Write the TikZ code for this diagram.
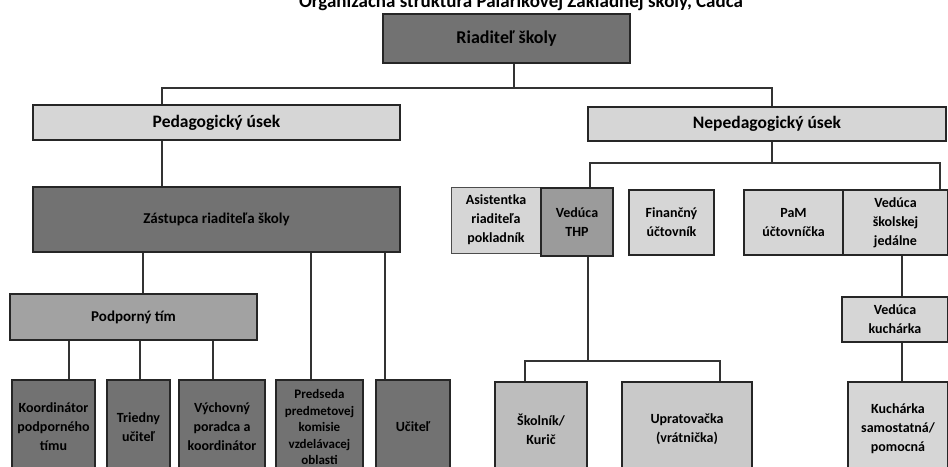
\documentclass[tikz,border=0pt]{standalone}
\usepackage{fontspec}
\setmainfont{Carlito}
\usetikzlibrary{positioning}

\definecolor{dark}{HTML}{727272}
\definecolor{mid}{HTML}{A2A2A2}
\definecolor{midlight}{HTML}{BDBDBD}
\definecolor{light}{HTML}{D6D6D6}

\begin{document}
\begin{tikzpicture}[x=1pt,y=-1pt]
        \tikzset{box/.style = {draw=black!85,line width=1.4pt,align=center,font=\bfseries\fontsize{14}{19}\selectfont,inner sep=1pt}};
        \tikzset{wire/.style = {draw=black!80,line width=1.3pt}};
        \useasboundingbox (0,0) rectangle (948,466);
        \clip (0,0) rectangle (948,466);
        % title, cut at the top
        \node[anchor=base,font=\bfseries\fontsize{19}{22}\selectfont] (title) at (521,7) {Organizačná štruktúra Palárikovej Základnej školy, Čadca};
        % top levels
        \node[box,fill=dark,minimum width=247,minimum height=49,font=\bfseries\fontsize{18}{20}\selectfont] (rs) at (506.5,38.5) {Riaditeľ školy};
        \node[box,fill=light,minimum width=367,minimum height=35,font=\bfseries\fontsize{17.5}{20}\selectfont] (ped) at (216.5,122.5) {Pedagogický úsek};
        \node[box,fill=light,minimum width=358,minimum height=34,font=\bfseries\fontsize{17.5}{20}\selectfont] (neped) at (767,124) {Nepedagogický úsek};
        % pedagogical part
        \node[box,fill=dark,minimum width=367,minimum height=65,font=\bfseries\fontsize{15}{20}\selectfont] (zast) at (216.5,219.5) {Zástupca riaditeľa školy};
        \node[box,fill=mid,minimum width=247,minimum height=46,font=\bfseries\fontsize{15}{20}\selectfont] (podp) at (133.5,317) {Podporný tím};
        \node[box,fill=dark,minimum width=83,minimum height=94] (koord) at (53.5,427) {Koordinátor\\podporného\\tímu};
        \node[box,fill=dark,minimum width=63,minimum height=94] (tried) at (138.5,427) {Triedny\\učiteľ};
        \node[box,fill=dark,minimum width=86,minimum height=94] (vych) at (222,427) {Výchovný\\poradca a\\koordinátor};
        \node[box,fill=dark,minimum width=87,minimum height=94,font=\bfseries\fontsize{13}{16.5}\selectfont] (pred) at (319.5,427) {Predseda\\predmetovej\\komisie\\vzdelávacej\\oblasti};
        \node[box,fill=dark,minimum width=74,minimum height=94] (ucit) at (413,427) {Učiteľ};
        % non-pedagogical part
        \node[box,fill=light,draw=black!70,line width=0.6pt,minimum width=90,minimum height=66] (asist) at (496,220) {Asistentka\\riaditeľa\\pokladník};
        \node[box,fill=mid!85!dark,minimum width=72,minimum height=68] (thp) at (577,222) {Vedúca\\THP};
        \node[box,fill=light,minimum width=85,minimum height=65] (fin) at (671.5,222.5) {Finančný\\účtovník};
        \node[box,fill=light,minimum width=99,minimum height=65] (pam) at (793.5,222.5) {PaM\\účtovníčka};
        \node[box,fill=light,minimum width=105,minimum height=65] (vsj) at (895.5,222.5) {Vedúca\\školskej\\jedálne};
        \node[box,fill=light,minimum width=106,minimum height=45] (vkuch) at (895,319.5) {Vedúca\\kuchárka};
        \node[box,fill=midlight,minimum width=92,minimum height=94] (skol) at (541,429) {Školník/\\Kurič};
        \node[box,fill=light!85!gray,minimum width=130,minimum height=94] (uprat) at (687,429) {Upratovačka\\(vrátnička)};
        \node[box,fill=light,minimum width=100,minimum height=94] (kuch) at (898,429) {Kuchárka\\samostatná/\\pomocná};
        % connectors
        \coordinate (b1) at (514,88);
        \coordinate (b2) at (772,163);
        \coordinate (b3) at (588,361);
        \draw[wire] (rs.south -| b1) -- (b1);
        \draw[wire] (ped.north -| 162,0) |- (b1) -| (neped.north -| b2);
        \draw[wire] (ped.south -| 162,0) -- (zast.north -| 162,0);
        \draw[wire] (zast.south -| 143,0) -- (podp.north -| 143,0);
        \draw[wire] (zast.south -| 311,0) -- (pred.north -| 311,0);
        \draw[wire] (zast.south -| 385,0) -- (ucit.north -| 385,0);
        \draw[wire] (podp.south -| 69,0) -- (koord.north -| 69,0);
        \draw[wire] (podp.south -| 140,0) -- (tried.north -| 140,0);
        \draw[wire] (podp.south -| 213,0) -- (vych.north -| 213,0);
        \draw[wire] (neped.south -| b2) -- (b2);
        \draw[wire] (thp.north -| 590,0) |- (b2) -| (vsj.north -| 940,0);
        \draw[wire] (fin.north -| 714,0) -- (fin.north -| 714,163);
        \draw[wire] (pam.north -| 818,0) -- (pam.north -| 818,163);
        \draw[wire] (thp.south -| b3) -- (b3);
        \draw[wire] (skol.north -| 525,0) |- (b3) -| (uprat.north -| 720,0);
        \draw[wire] (vsj.south -| 902,0) -- (vkuch.north -| 902,0);
        \draw[wire] (vkuch.south -| 902,0) -- (kuch.north -| 902,0);
    \end{tikzpicture}
\end{document}
